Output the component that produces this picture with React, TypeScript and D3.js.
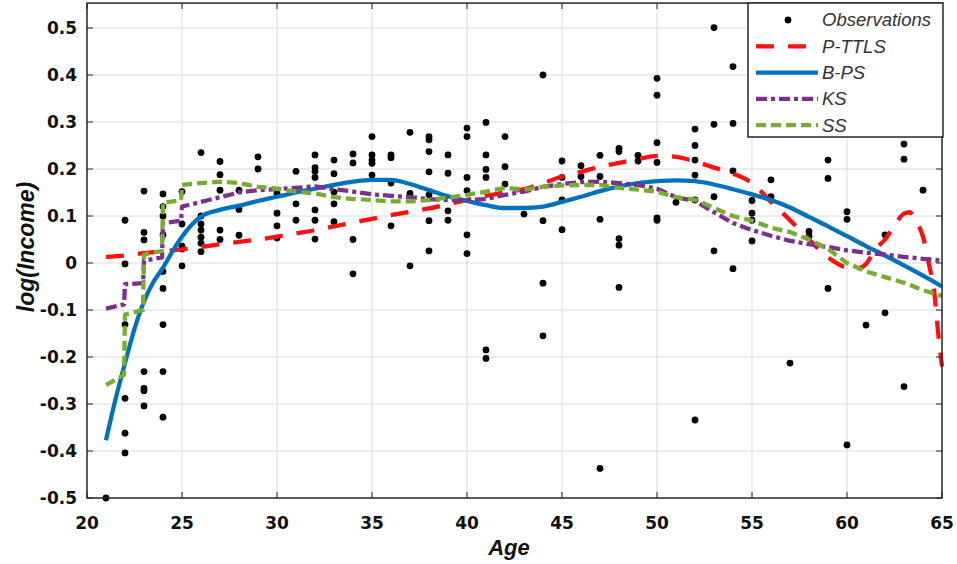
import React from 'react';
import * as d3 from 'd3';

// observations: one age per column, the log(income) values seen at that age
const obsAges = [21, 22, 23, 24, 25, 26, 27, 28, 29, 30, 31, 32, 33, 34, 35, 36, 37, 38, 39, 40, 41, 42, 43, 44, 45, 46, 47, 48, 49, 50, 51, 52, 53, 54, 55, 56, 57, 58, 59, 60, 61, 62, 63, 64];
const obsValues = [
  [-0.5],
  [0.091, -0.002, -0.131, -0.288, -0.362, -0.404],
  [0.153, 0.065, 0.049, -0.231, -0.267, -0.272, -0.304],
  [0.147, 0.12, 0.1, 0.06, -0.018, -0.054, -0.131, -0.231, -0.328],
  [0.152, 0.083, 0.036, 0.03, -0.006],
  [0.235, 0.1, 0.083, 0.07, 0.055, 0.042, 0.024],
  [0.216, 0.188, 0.155, 0.07, 0.05],
  [0.155, 0.114, 0.059],
  [0.226, 0.2],
  [0.148, 0.106, 0.079, 0.053],
  [0.195, 0.126, 0.091],
  [0.23, 0.203, 0.195, 0.182, 0.113, 0.091, 0.051],
  [0.219, 0.19, 0.151, 0.126, 0.088],
  [0.232, 0.213, 0.05, -0.023],
  [0.269, 0.23, 0.219, 0.212, 0.187],
  [0.23, 0.224, 0.17, 0.079],
  [0.278, 0.148, -0.006],
  [0.269, 0.262, 0.237, 0.194, 0.145, 0.09, 0.026],
  [0.23, 0.191, 0.111, 0.091],
  [0.287, 0.269, 0.182, 0.154, 0.06, 0.02],
  [0.299, 0.23, 0.199, 0.182, -0.185, -0.203],
  [0.269, 0.205, 0.168],
  [0.104],
  [0.4, 0.09, -0.043, -0.155],
  [0.217, 0.182, 0.134, 0.071],
  [0.207, 0.184],
  [0.229, 0.184, 0.093, -0.437],
  [0.244, 0.237, 0.052, 0.038, -0.052],
  [0.229, 0.217],
  [0.393, 0.357, 0.256, 0.214, 0.096, 0.091],
  [0.129],
  [0.285, 0.25, 0.219, 0.187, 0.134, -0.334],
  [0.501, 0.295, 0.141, 0.026],
  [0.418, 0.297, 0.196, -0.012],
  [0.133, 0.106, 0.091, 0.047],
  [0.177, 0.141],
  [-0.213],
  [0.067, 0.057],
  [0.219, 0.18, -0.054],
  [0.109, 0.093, -0.387],
  [-0.132],
  [0.06, -0.106],
  [0.253, 0.221, -0.263],
  [0.155],
];

const pttlsAges = [21, 22, 23, 24, 25, 26, 27, 28, 29, 30, 31, 32, 33, 34, 35, 36, 37, 38, 39, 40, 41, 42, 43, 44, 45, 46, 47, 48, 49, 50, 51, 52, 53, 54, 55, 56, 57, 58, 59, 60, 60.5, 61, 61.5, 62, 62.5, 63, 63.3, 63.6, 64, 64.3, 64.6, 64.8, 65];
const pttlsValues = [0.013, 0.016, 0.021, 0.025, 0.029, 0.034, 0.04, 0.045, 0.05, 0.056, 0.063, 0.07, 0.078, 0.086, 0.094, 0.102, 0.109, 0.116, 0.125, 0.134, 0.143, 0.15, 0.157, 0.17, 0.184, 0.194, 0.205, 0.213, 0.221, 0.228, 0.226, 0.216, 0.203, 0.19, 0.17, 0.13, 0.091, 0.05, 0.012, -0.01, -0.012, -0.002, 0.03, 0.05, 0.08, 0.105, 0.108, 0.09, 0.056, 0.0, -0.065, -0.15, -0.22];

const bpsAges = [21, 21.5, 22, 22.5, 23, 23.5, 24, 24.5, 25, 26, 27, 28, 29, 30, 31, 32, 33, 34, 35, 36, 37, 38, 39, 40, 41, 42, 43, 44, 45, 46, 47, 48, 49, 50, 51, 52, 53, 54, 55, 56, 57, 58, 59, 60, 61, 62, 63, 64, 65];
const bpsValues = [-0.377, -0.29, -0.213, -0.14, -0.082, -0.04, -0.01, 0.025, 0.056, 0.099, 0.113, 0.122, 0.132, 0.141, 0.15, 0.158, 0.166, 0.173, 0.177, 0.177, 0.168, 0.155, 0.142, 0.132, 0.123, 0.117, 0.117, 0.12, 0.13, 0.141, 0.153, 0.163, 0.17, 0.174, 0.176, 0.174, 0.167, 0.157, 0.146, 0.134, 0.118, 0.098, 0.078, 0.057, 0.036, 0.016, -0.005, -0.027, -0.05];

const ksAges = [21, 21.95, 22, 22.95, 23, 23.95, 24, 24.95, 25, 26, 27, 28, 29, 30, 31, 32, 33, 34, 35, 36, 37, 38, 39, 40, 41, 42, 43, 44, 45, 46, 47, 48, 49, 50, 51, 52, 53, 54, 55, 56, 57, 58, 59, 60, 61, 62, 63, 64, 65];
const ksValues = [-0.097, -0.088, -0.045, -0.043, 0.005, 0.012, 0.085, 0.09, 0.12, 0.13, 0.14, 0.15, 0.155, 0.157, 0.16, 0.163, 0.157, 0.152, 0.146, 0.143, 0.14, 0.136, 0.134, 0.134, 0.136, 0.145, 0.152, 0.162, 0.168, 0.172, 0.173, 0.17, 0.166, 0.158, 0.14, 0.132, 0.108, 0.085, 0.07, 0.058, 0.047, 0.04, 0.034, 0.027, 0.022, 0.018, 0.013, 0.009, 0.005];

const ssAges = [21, 21.95, 22, 22.95, 23, 23.95, 24, 24.95, 25, 26, 27, 28, 29, 30, 31, 32, 33, 34, 35, 36, 37, 38, 39, 40, 41, 42, 43, 44, 45, 46, 47, 48, 49, 50, 51, 52, 53, 54, 55, 56, 57, 58, 59, 60, 61, 62, 63, 64, 65];
const ssValues = [-0.26, -0.238, -0.11, -0.1, 0.018, 0.026, 0.128, 0.134, 0.166, 0.17, 0.173, 0.17, 0.162, 0.158, 0.152, 0.148, 0.14, 0.136, 0.134, 0.131, 0.131, 0.134, 0.139, 0.145, 0.152, 0.16, 0.156, 0.162, 0.165, 0.166, 0.166, 0.16, 0.156, 0.152, 0.14, 0.135, 0.117, 0.1, 0.09, 0.075, 0.066, 0.05, 0.03, 0.0, -0.018, -0.03, -0.042, -0.058, -0.07];

const xTicks = [20, 25, 30, 35, 40, 45, 50, 55, 60, 65];
const yTicks = [-0.5, -0.4, -0.3, -0.2, -0.1, 0, 0.1, 0.2, 0.3, 0.4, 0.5];
const yTop = 0.553;

const series = [
  { name: 'P-TTLS', ages: pttlsAges, values: pttlsValues, color: '#ff1010', dash: '18,14', smooth: true },
  { name: 'B-PS', ages: bpsAges, values: bpsValues, color: '#0072bd', dash: null, smooth: true },
  { name: 'KS', ages: ksAges, values: ksValues, color: '#7e2f8e', dash: '11,4,4,4', smooth: false },
  { name: 'SS', ages: ssAges, values: ssValues, color: '#77ac30', dash: '10,5', smooth: false },
];

const App = () => {
  const width = 957;
  const height = 564;

  const x = d3.scaleLinear().domain([20, 65]).range([87, 942]);
  const y = d3.scaleLinear().domain([-0.5, 0.5]).range([498, 28]);
  const top = y(yTop);

  const points = obsAges.flatMap((a, i) => obsValues[i].map(v => [a, v]));

  const tickFont = '"DejaVu Sans", sans-serif';
  const labelFont = '"Liberation Sans", Arial, sans-serif';

  // legend layout
  const lg = { x: 748, y: 3, w: 195, h: 134 };
  const rowY = (i) => 20 + i * 26.3;

  return (
    <svg width={width} height={height} style={{ position: 'absolute', left: 0, top: 0, background: '#fff' }}>
      <rect width={width} height={height} fill="#fff" />

      {/* grid */}
      {xTicks.slice(1, -1).map(t => (
        <line key={`gx${t}`} x1={x(t)} x2={x(t)} y1={top} y2={y(-0.5)} stroke="#dcdcdc" strokeWidth={1} />
      ))}
      {yTicks.slice(1).map(t => (
        <line key={`gy${t}`} x1={x(20)} x2={x(65)} y1={y(t)} y2={y(t)} stroke="#dcdcdc" strokeWidth={1} />
      ))}

      {/* observations */}
      {points.map((p, i) => (
        <circle key={`p${i}`} cx={x(p[0])} cy={y(p[1])} r={3.4} fill="#000" />
      ))}

      {/* fitted curves */}
      {series.map(s => {
        const line = d3.line()
          .x((d) => x(d[0]))
          .y((d) => y(d[1]))
          .curve(s.smooth ? d3.curveMonotoneX : d3.curveLinear);
        const pts = s.ages.map((a, i) => [a, s.values[i]]);
        return (
          <path key={s.name} d={line(pts)} fill="none" stroke={s.color} strokeWidth={4.3}
            strokeDasharray={s.dash || undefined} strokeLinejoin="round" />
        );
      })}

      {/* frame and ticks */}
      <rect x={x(20)} y={top} width={x(65) - x(20)} height={y(-0.5) - top} fill="none" stroke="#262626" strokeWidth={1.5} />
      {xTicks.map(t => (
        <g key={`tx${t}`}>
          <line x1={x(t)} x2={x(t)} y1={y(-0.5)} y2={y(-0.5) - 6} stroke="#262626" strokeWidth={1} />
          <line x1={x(t)} x2={x(t)} y1={top} y2={top + 6} stroke="#262626" strokeWidth={1} />
          <text x={x(t)} y={529} textAnchor="middle" fontFamily={tickFont} fontWeight="bold" fontSize={17} fill="#111">{t}</text>
        </g>
      ))}
      {yTicks.map(t => (
        <g key={`ty${t}`}>
          <line x1={x(20)} x2={x(20) + 6} y1={y(t)} y2={y(t)} stroke="#262626" strokeWidth={1} />
          <line x1={x(65)} x2={x(65) - 6} y1={y(t)} y2={y(t)} stroke="#262626" strokeWidth={1} />
          <text x={77} y={y(t)} dy="0.36em" textAnchor="end" fontFamily={tickFont} fontWeight="bold" fontSize={17} fill="#111">{t}</text>
        </g>
      ))}

      {/* axis titles */}
      <text x={509} y={555} textAnchor="middle" fontFamily={labelFont} fontWeight="bold" fontStyle="italic" fontSize={22} fill="#111">Age</text>
      <text transform="translate(34,247) rotate(-90)" textAnchor="middle" fontFamily={labelFont} fontWeight="bold" fontStyle="italic" fontSize={23} fill="#111">log(Income)</text>

      {/* legend */}
      <rect x={lg.x} y={lg.y} width={lg.w} height={lg.h} fill="#fff" stroke="#262626" strokeWidth={1.5} />
      <circle cx={788} cy={rowY(0)} r={3.4} fill="#000" />
      <text x={822} y={rowY(0)} dy="0.35em" fontFamily={labelFont} fontStyle="italic" fontSize={18.5} fill="#333">Observations</text>
      {series.map((s, i) => (
        <g key={`lg${s.name}`}>
          <line x1={756} x2={818} y1={rowY(i + 1)} y2={rowY(i + 1)} stroke={s.color} strokeWidth={4.3}
            strokeDasharray={s.dash || undefined} />
          <text x={822} y={rowY(i + 1)} dy="0.35em" fontFamily={labelFont} fontStyle="italic" fontSize={18.5} fill="#333">{s.name}</text>
        </g>
      ))}
    </svg>
  );
};

export default App;
